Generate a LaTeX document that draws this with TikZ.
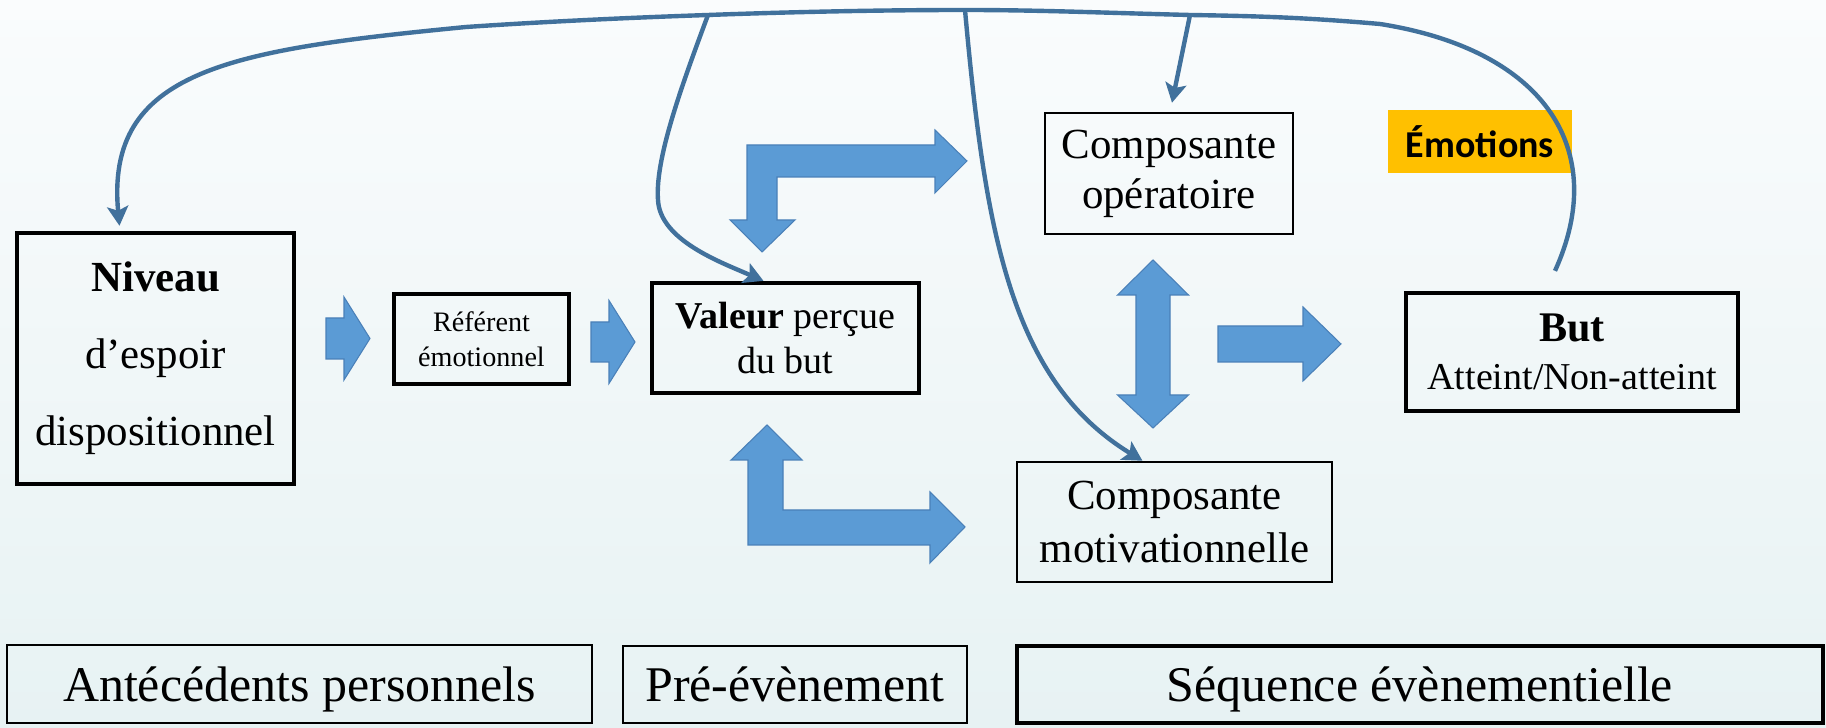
\documentclass[tikz,border=0pt]{standalone}
\usepackage{fontspec}
\setmainfont{Liberation Serif}
\newfontfamily\calibfont{Carlito}
\usetikzlibrary{arrows.meta}
\definecolor{lienbleu}{RGB}{65,113,156}
\definecolor{blocbleu}{RGB}{91,155,213}
\definecolor{blocbord}{RGB}{74,128,184}
\definecolor{orangeemo}{RGB}{255,192,0}
\definecolor{fondhaut}{RGB}{250,252,253}
\definecolor{fondbas}{RGB}{231,242,243}
\begin{document}
\begin{tikzpicture}[x=0.01cm,y=-0.01cm,
        boite/.style={draw=black,line width=1.2pt,align=center,inner sep=0pt},
        boitefine/.style={draw=black,line width=0.7pt,align=center,inner sep=0pt},
        lien/.style={draw=lienbleu,line width=1.25pt,-{Stealth[length=5.5pt,width=6pt,inset=1.2pt]}},
        bloc/.style={fill=blocbleu,draw=blocbord,line width=0.3pt,line join=miter}]
            \useasboundingbox (0,0) rectangle (1826,728);
            \shade[top color=fondhaut,bottom color=fondbas] (0,0) rectangle (1826,728);

            \node[boite,minimum width=2.77cm,minimum height=2.51cm,font=\fontsize{12.2}{21.9}\selectfont] (niveau) at (155.5,358.5) {\textbf{Niveau}\\d’espoir\\dispositionnel};
            \node[boite,minimum width=1.75cm,minimum height=0.9cm,font=\fontsize{8}{10}\selectfont] (referent) at (481.5,339) {Référent\\émotionnel};
            \node[boite,minimum width=2.67cm,minimum height=1.1cm,font=\fontsize{10.8}{12.8}\selectfont] (valeur) at (785.5,338) {\textbf{Valeur} perçue\\du but};
            \node[boitefine,minimum width=2.48cm,minimum height=1.21cm,font=\fontsize{12.2}{14.2}\selectfont] (operatoire) at (1169,173.5) {Composante\\opératoire};
            \node[boitefine,minimum width=3.15cm,minimum height=1.2cm,font=\fontsize{12.2}{14.8}\selectfont] (motiv) at (1174.5,522) {Composante\\motivationnelle};
            \node[boite,minimum width=3.32cm,minimum height=1.18cm,font=\fontsize{10.8}{13.7}\selectfont] (but) at (1572,352) {{\fontsize{12}{13.7}\selectfont\textbf{But}}\\Atteint/Non-atteint};
            \node[fill=orangeemo,minimum width=1.84cm,minimum height=0.63cm,inner sep=0pt,font=\calibfont\bfseries\fontsize{10.8}{13}\selectfont] (emotions) at (1480,141.5) {Émotions};

            \node[boitefine,minimum width=5.85cm,minimum height=0.78cm,text depth=0pt,font=\fontsize{14.2}{17}\selectfont] (antec) at (299.5,684) {Antécédents personnels};
            \node[boitefine,minimum width=3.44cm,minimum height=0.77cm,text depth=0pt,font=\fontsize{14.2}{17}\selectfont] (preevt) at (795,684.5) {Pré-évènement};
            \node[boite,minimum width=8.06cm,minimum height=0.77cm,text depth=0pt,font=\fontsize{14.2}{17}\selectfont] (sequence) at (1420,684.5) {Séquence évènementielle};

            \foreach \xa/\xb/\xc/\yc/\ds/\dh in {326/344/370/338.5/20.5/41.5, 591/609/635/342/20/41.5, 1218/1303/1341/344/18/37} {
                \draw[bloc] (\xa,\yc-\ds) -- (\xb,\yc-\ds) -- (\xb,\yc-\dh) -- (\xc,\yc) -- (\xb,\yc+\dh) -- (\xb,\yc+\ds) -- (\xa,\yc+\ds) -- cycle;
            }
            \draw[bloc] (1153,260) -- (1188.5,295) -- (1170,295) -- (1170,395) -- (1188.5,395) -- (1153,428) -- (1117.5,395) -- (1136,395) -- (1136,295) -- (1117.5,295) -- cycle;
            \draw[bloc] (747,145) -- (935,145) -- (935,130) -- (967,161) -- (935,193) -- (935,177) -- (777,177) -- (777,220) -- (795,220) -- (762,252) -- (730,220) -- (747,220) -- cycle;
            \draw[bloc] (767,425) -- (802,460) -- (783,460) -- (783,510) -- (930,510) -- (930,492) -- (965,527) -- (930,563) -- (930,545) -- (748,545) -- (748,460) -- (731,460) -- cycle;

            \coordinate (k1) at (708,15);
            \coordinate (k2) at (965,10);
            \coordinate (k3) at (1190,15);
            \draw[lien] ([xshift=-1.7mm,yshift=2mm]but.north) .. controls (1610,150) and (1545,50) .. (1380,24) .. controls (1300,17) and (1250,16) .. (k3) .. controls (1110,13) and (1040,10) .. (k2) .. controls (880,10) and (790,12) .. (k1) .. controls (620,18) and (540,22) .. (466,27) .. controls (230,50) and (105,70) .. ([xshift=-3.6mm,yshift=0.5mm]niveau.north);
            \draw[lien] (k1) .. controls (680,90) and (655,160) .. (658,200) .. controls (660,240) and (720,262) .. ([xshift=-2.2mm]valeur.north);
            \draw[lien] (k2) .. controls (985,230) and (1010,380) .. ([xshift=-3.2mm]motiv.north);
            \draw[lien] (k3) -- ([xshift=0.3mm,yshift=0.9mm]operatoire.north);
        \end{tikzpicture}
\end{document}
